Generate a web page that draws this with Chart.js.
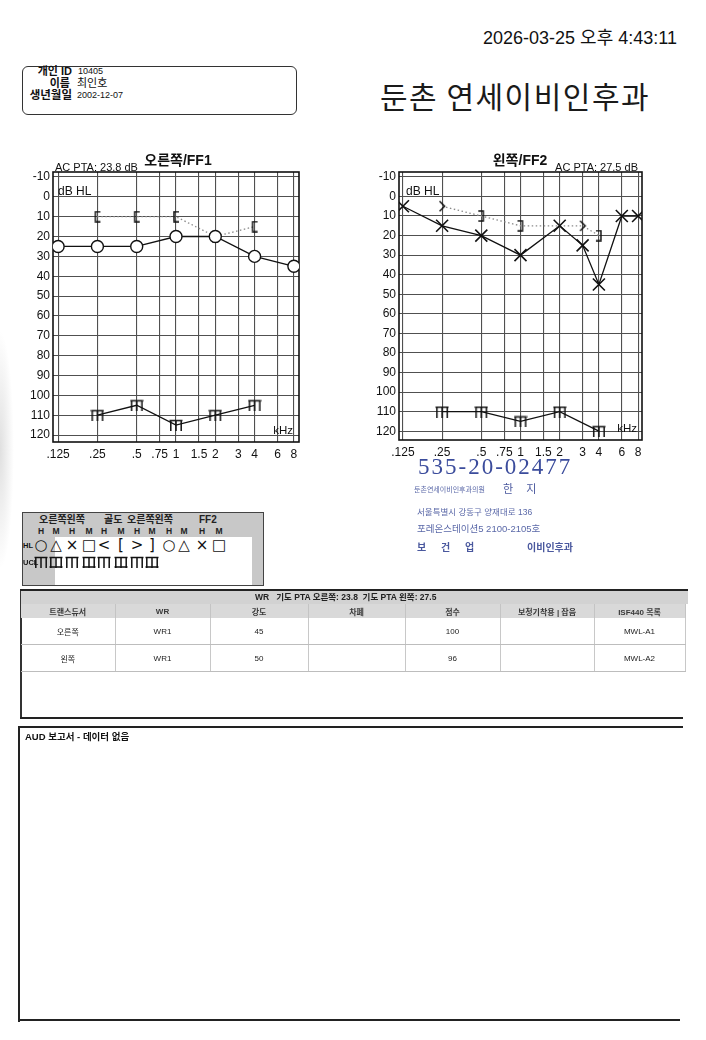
<!DOCTYPE html>
<html><head><meta charset="utf-8">
<script src="https://cdn.jsdelivr.net/npm/chart.js@4.4.1/dist/chart.umd.min.js"></script>
<style>
body{margin:0;background:#fff;}
#page{position:relative;width:706px;height:1040px;overflow:hidden;background:#fff;font-family:"Liberation Sans","Noto Sans CJK KR",sans-serif;color:#111;}
.abs{position:absolute;white-space:nowrap;line-height:1;}
.c{transform:translateX(-50%);}
#wrtab{position:absolute;left:21px;top:604px;border-collapse:collapse;table-layout:fixed;width:664px;font-size:8px;}
#wrtab th{height:14px;background:#d9d9d9;color:#3a3a3a;font-weight:bold;border-right:1px solid #c4c4c4;padding:0;}
#wrtab td{height:26px;color:#222;text-align:center;border-right:1px solid #c8c8c8;border-bottom:1px solid #bdbdbd;padding:0;}
</style></head>
<body><div id="page">

<div class="abs" style="left:0;top:330px;width:14px;height:240px;background:radial-gradient(ellipse at left center,rgba(130,130,130,0.25),rgba(255,255,255,0) 70%);"></div>

<div class="abs" style="left:483px;top:29px;font-size:18px;">2026-03-25 오후 4:43:11</div>

<div class="abs" style="left:22px;top:66px;width:273px;height:47px;border:1.6px solid #333;border-radius:6px;"></div>
<div class="abs" style="left:22px;top:66px;width:50px;text-align:right;font-weight:bold;font-size:11px;">개인 ID</div>
<div class="abs" style="left:78px;top:67px;font-size:9px;">10405</div>
<div class="abs" style="left:22px;top:78px;width:48px;text-align:right;font-weight:bold;font-size:11px;">이름</div>
<div class="abs" style="left:77px;top:78px;font-size:11px;">최인호</div>
<div class="abs" style="left:22px;top:90px;width:50px;text-align:right;font-weight:bold;font-size:11.5px;">생년월일</div>
<div class="abs" style="left:77px;top:91px;font-size:9px;">2002-12-07</div>

<div class="abs" style="left:380px;top:80px;font-size:30px;letter-spacing:1.5px;font-family:'Noto Sans CJK KR',sans-serif;color:#1a1a1a;">둔촌 연세이비인후과</div>

<canvas id="rightChart" width="310" height="330" style="position:absolute;left:0;top:140px;"></canvas>
<canvas id="leftChart" width="310" height="330" style="position:absolute;left:345px;top:140px;"></canvas>

<!-- stamp -->
<div class="abs" style="left:418px;top:455px;font-size:23px;letter-spacing:2px;font-family:'Liberation Serif','DejaVu Serif',serif;color:#3b4c9c;">535-20-02477</div>
<div class="abs" style="left:414px;top:486px;font-size:7px;color:#5a68a8;">둔촌연세이비인후과의원</div>
<div class="abs" style="left:503px;top:484px;font-size:11px;letter-spacing:5px;color:#4a589e;">한 지</div>
<div class="abs" style="left:417px;top:508px;font-size:8.5px;color:#5a68a8;">서울특별시 강동구 양재대로 136</div>
<div class="abs" style="left:417px;top:524px;font-size:9.5px;color:#5a68a8;">포레온스테이션5 2100-2105호</div>
<div class="abs" style="left:417px;top:543px;font-size:10px;font-weight:bold;letter-spacing:6px;color:#4a589e;">보 건 업</div>
<div class="abs" style="left:527px;top:543px;font-size:10px;font-weight:bold;color:#4a589e;">이비인후과</div>

<!-- symbol legend -->
<div id="legend" class="abs" style="left:22px;top:512px;width:240px;height:72px;border:1.4px solid #444;background:#c8c8c8;">
  <div class="abs" style="left:32px;top:24px;width:197px;height:48px;background:#fff;"></div>
</div>

<!-- WR table -->
<div class="abs" style="left:20px;top:589px;width:668px;height:2.5px;background:#222;"></div>
<div class="abs" style="left:20px;top:591px;width:1.5px;height:128px;background:#333;"></div>
<div class="abs" style="left:21px;top:591px;width:667px;height:13px;background:#d2d2d2;"></div>
<div class="abs" style="left:255px;top:593px;font-size:8.5px;font-weight:bold;color:#222;">WR&nbsp;&nbsp;&nbsp;기도 PTA 오른쪽: 23.8&nbsp;&nbsp;기도 PTA 왼쪽: 27.5</div>
<table id="wrtab"><colgroup id="wrcols"></colgroup><thead><tr id="wrhead"></tr></thead><tbody id="wrbody"></tbody></table>
<div class="abs" style="left:20px;top:717px;width:663px;height:1.8px;background:#222;"></div>

<!-- AUD box -->
<div class="abs" style="left:18px;top:726px;width:665px;height:2px;background:#222;"></div>
<div class="abs" style="left:18px;top:726px;width:2px;height:296px;background:#222;"></div>
<div class="abs" style="left:18px;top:1019px;width:662px;height:2px;background:#222;"></div>
<div class="abs" style="left:25px;top:732px;font-size:9.5px;font-weight:bold;">AUD 보고서 - 데이터 없음</div>

</div>
<script>
// ---- chart data ----
const freqTicks = [0.125, 0.25, 0.5, 0.75, 1, 1.5, 2, 3, 4, 6, 8];
const freqTickLabels = ['.125', '.25', '.5', '.75', '1', '1.5', '2', '3', '4', '6', '8'];
const dbTicks = [-10, 0, 10, 20, 30, 40, 50, 60, 70, 80, 90, 100, 110, 120];

const rightAcFreq = [0.125, 0.25, 0.5, 1, 2, 4, 8];
const rightAcDb   = [25, 25, 25, 20, 20, 30, 35];
const rightBcFreq = [0.25, 0.5, 1, 2, 4];
const rightBcDb   = [10, 10, 10, 20, 15];
const rightUclFreq = [0.25, 0.5, 1, 2, 4];
const rightUclDb   = [110, 105, 115, 110, 105];

const leftAcFreq = [0.125, 0.25, 0.5, 1, 2, 3, 4, 6, 8];
const leftAcDb   = [5, 15, 20, 30, 15, 25, 45, 10, 10];
const leftBcFreq = [0.25, 0.5, 1, 2, 3, 4];
const leftBcDb   = [5, 10, 15, 15, 15, 20];
const leftBcSymbols = ['>', ']', ']', '', '>', ']'];   // '' = hidden under the X
const leftUclFreq = [0.25, 0.5, 1, 2, 4];
const leftUclDb   = [110, 110, 115, 110, 120];

const rightPta = 'AC PTA: 23.8 dB';
const leftPta = 'AC PTA: 27.5 dB';

// ---- table data ----
const tableHeaders = ['트랜스듀서', 'WR', '강도', '차폐', '점수', '보청기착용 | 잡음', 'ISF440 목록'];
const tableRows = [
  ['오른쪽', 'WR1', '45', '', '100', '', 'MWL-A1'],
  ['왼쪽', 'WR1', '50', '', '96', '', 'MWL-A2']
];
const legendHeads = ['오른쪽왼쪽', '골도', '오른쪽왼쪽', 'FF2'];
const legendHM = ['H','M','H','M','H','M','H','M','H','M','H','M'];
const legendHL = ['○','△','×','□','<','[','>',']','○','△','×','□'];

// ---- point symbols ----
function symbolCanvas(kind) {
  const c = document.createElement('canvas');
  let w = 8, h = 12;
  if (kind === 'ucl' || kind === 'uclBox') { w = 14; h = 12; }
  c.width = w; c.height = h;
  const g = c.getContext('2d');
  g.strokeStyle = '#111'; g.lineWidth = 1.5; g.lineJoin = 'miter';
  g.beginPath();
  if (kind === '[') { g.moveTo(w - 1, 1); g.lineTo(2, 1); g.lineTo(2, h - 1); g.lineTo(w - 1, h - 1); }
  if (kind === ']') { g.moveTo(1, 1); g.lineTo(w - 2, 1); g.lineTo(w - 2, h - 1); g.lineTo(1, h - 1); }
  if (kind === '>') { g.moveTo(1.5, 1); g.lineTo(w - 1.5, h / 2); g.lineTo(1.5, h - 1); }
  if (kind === 'ucl' || kind === 'uclBox') {
    g.moveTo(0.5, 1.5); g.lineTo(w - 0.5, 1.5);
    g.moveTo(1.8, 1.5); g.lineTo(1.8, h);
    g.moveTo(w / 2, 1.5); g.lineTo(w / 2, h);
    g.moveTo(w - 1.8, 1.5); g.lineTo(w - 1.8, h);
    if (kind === 'uclBox') { g.moveTo(0.5, h - 1); g.lineTo(w - 0.5, h - 1); }
  }
  g.stroke();
  return c;
}
const symCache = {};
function sym(k) { if (k === '') return false; if (!symCache[k]) symCache[k] = symbolCanvas(k); return symCache[k]; }

// ---- build table ----
const colW = [94, 95, 98, 97, 95, 94, 91];
document.getElementById('wrcols').innerHTML = colW.map(w => '<col style="width:' + w + 'px">').join('');
document.getElementById('wrhead').innerHTML = tableHeaders.map(h => '<th>' + h + '</th>').join('');
document.getElementById('wrbody').innerHTML = tableRows.map(r => '<tr>' + r.map(v => '<td>' + v + '</td>').join('') + '</tr>').join('');

// ---- build legend ----
const lg = document.getElementById('legend');
const headX = [16, 81, 104, 176];
legendHeads.forEach((t, i) => {
  const d = document.createElement('div'); d.className = 'abs';
  d.style.cssText = 'left:' + headX[i] + 'px;top:2px;font-size:10px;font-weight:bold;color:#222;';
  d.textContent = t; lg.appendChild(d);
});
const colX = [18, 33, 49, 66, 81, 98, 114, 129, 146, 161, 179, 196];
legendHM.forEach((t, i) => {
  const d = document.createElement('div'); d.className = 'abs c';
  d.style.cssText = 'left:' + colX[i] + 'px;top:14px;font-size:8.5px;font-weight:bold;color:#222;';
  d.textContent = t; lg.appendChild(d);
});
legendHL.forEach((t, i) => {
  const d = document.createElement('div'); d.className = 'abs c';
  d.style.cssText = 'left:' + colX[i] + 'px;top:25px;font-size:15px;font-family:"DejaVu Sans",sans-serif;color:#111;';
  d.textContent = t; lg.appendChild(d);
});
for (let i = 0; i < 8; i++) {
  const cv = symbolCanvas(i % 2 === 1 ? 'uclBox' : 'ucl');
  cv.style.cssText = 'position:absolute;left:' + (colX[i] - 7) + 'px;top:43px;';
  lg.appendChild(cv);
}
const hl = document.createElement('div'); hl.className = 'abs';
hl.style.cssText = 'left:0px;top:29px;font-size:7.5px;font-weight:bold;'; hl.textContent = 'HL'; lg.appendChild(hl);
const ucl = document.createElement('div'); ucl.className = 'abs';
ucl.style.cssText = 'left:0px;top:46px;font-size:7.5px;font-weight:bold;'; ucl.textContent = 'UCL'; lg.appendChild(ucl);

function pts(fx, fy) { return fx.map((f, i) => ({ x: f, y: fy[i] })); }

// ---- plugins ----
const framePlugin = {
  id: 'frame',
  beforeDatasetsDraw(chart) {
    const { ctx, chartArea: ca } = chart;
    ctx.save(); ctx.strokeStyle = '#111'; ctx.lineWidth = 1.6;
    ctx.strokeRect(ca.left, ca.top, ca.right - ca.left, ca.bottom - ca.top);
    ctx.restore();
  }
};
const textPlugin = {
  id: 'audText',
  afterDraw(chart, args, o) {
    const { ctx, chartArea: ca } = chart;
    const fam = '"Liberation Sans","Noto Sans CJK KR",sans-serif';
    ctx.save(); ctx.fillStyle = '#111';
    ctx.font = 'bold 14px ' + fam; ctx.textAlign = 'center'; ctx.textBaseline = 'middle';
    ctx.fillText(o.title, ca.left + o.titleDx, ca.top - 11);
    ctx.font = '11px ' + fam; ctx.textBaseline = 'alphabetic';
    if (o.ptaLeft) { ctx.textAlign = 'left'; ctx.fillText(o.pta, ca.left + 2, ca.top - 1.5); }
    else { ctx.textAlign = 'right'; ctx.fillText(o.pta, ca.right - 4, ca.top - 1.5); }
    ctx.font = '12px ' + fam; ctx.textAlign = 'left';
    ctx.fillText('dB HL', ca.left + o.dbDx, ca.top + 23);
    ctx.font = '11.5px ' + fam; ctx.textAlign = 'right';
    ctx.fillText('kHz', ca.right - o.khzDx, ca.bottom - 8);
    ctx.restore();
  }
};

Chart.defaults.font.family = '"Liberation Sans","Noto Sans CJK KR",sans-serif';
Chart.defaults.color = '#111';

function makeChart(id, datasets, cfg) {
  return new Chart(document.getElementById(id), {
    type: 'scatter',
    data: { datasets },
    options: {
      responsive: false, animation: false,
      layout: { padding: cfg.padding },
      plugins: { legend: { display: false }, tooltip: { enabled: false }, audText: cfg.text },
      elements: { line: { tension: 0 } },
      scales: {
        x: {
          type: 'logarithmic',
          min: 0.125 * Math.pow(2, -cfg.xm), max: 8 * Math.pow(2, cfg.xm),
          afterBuildTicks: s => { s.ticks = freqTicks.map(v => ({ value: v })); },
          afterFit: s => { s.height = 22; },
          ticks: { autoSkip: false, maxRotation: 0, minRotation: 0, padding: 5, font: { size: 12 }, color: '#111',
                   callback: (v, i) => freqTickLabels[i] },
          grid: { color: '#505050', lineWidth: 1.1, drawTicks: false },
          border: { display: false }
        },
        y: {
          type: 'linear', reverse: true, min: -12.5, max: cfg.ymax,
          afterBuildTicks: s => { s.ticks = dbTicks.map(v => ({ value: v })); },
          afterFit: s => { s.width = 40; },
          ticks: { padding: 3, font: { size: 12 }, color: '#111' },
          grid: { color: '#505050', lineWidth: 1.1, drawTicks: false },
          border: { display: false }
        }
      }
    },
    plugins: [framePlugin, textPlugin]
  });
}

makeChart('rightChart', [
  { data: pts(rightAcFreq, rightAcDb), showLine: true, borderColor: '#111', borderWidth: 1.3,
    pointStyle: 'circle', pointRadius: 6, pointBackgroundColor: '#fff', pointBorderColor: '#111', pointBorderWidth: 1.4 },
  { data: pts(rightBcFreq, rightBcDb), showLine: true, borderColor: '#8a8a8a', borderWidth: 1.3, borderDash: [1.5, 2.5],
    pointStyle: sym('['), pointRadius: 6 },
  { data: pts(rightUclFreq, rightUclDb), showLine: true, borderColor: '#111', borderWidth: 1.3,
    pointStyle: sym('ucl'), pointRadius: 6 }
], { padding: { left: 13, right: 11, top: 32, bottom: 6 }, xm: 0.13, ymax: 123.5,
     text: { title: '오른쪽/FF1', titleDx: 125, pta: rightPta, ptaLeft: true, dbDx: 5, khzDx: 6 } });

makeChart('leftChart', [
  { data: pts(leftAcFreq, leftAcDb), showLine: true, borderColor: '#111', borderWidth: 1.3,
    pointStyle: 'crossRot', pointRadius: 8.5, pointBorderColor: '#111', pointBorderWidth: 1.6 },
  { data: pts(leftBcFreq, leftBcDb), showLine: true, borderColor: '#8a8a8a', borderWidth: 1.3, borderDash: [1.5, 2.5],
    pointStyle: leftBcSymbols.map(sym), pointRadius: 6 },
  { data: pts(leftUclFreq, leftUclDb), showLine: true, borderColor: '#111', borderWidth: 1.3,
    pointStyle: sym('ucl'), pointRadius: 6 }
], { padding: { left: 14, right: 13, top: 32, bottom: 8 }, xm: 0.1, ymax: 124.5,
     text: { title: '왼쪽/FF2', titleDx: 121, pta: leftPta, ptaLeft: false, dbDx: 7, khzDx: 5 } });
</script>
</body></html>
